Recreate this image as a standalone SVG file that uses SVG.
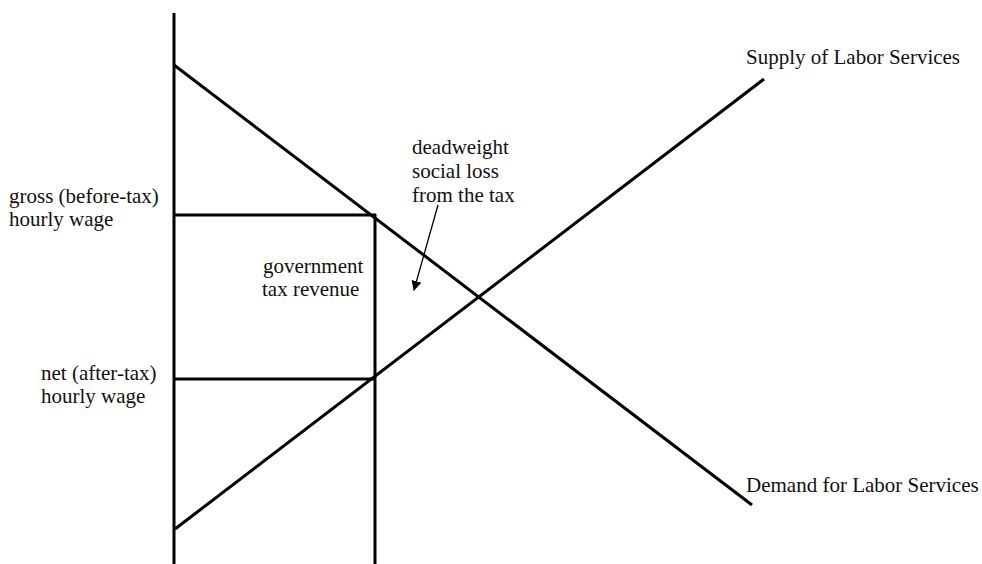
<svg xmlns="http://www.w3.org/2000/svg" width="982" height="564" viewBox="0 0 982 564">
<defs>
<style>
.ln{stroke:#000;stroke-width:3;fill:none;stroke-linecap:butt}
.tx{font-family:"Liberation Serif","Times New Roman",serif;font-size:21px;fill:#111}
</style>
<marker id="ah" viewBox="0 0 10 10" refX="9" refY="5" markerWidth="10" markerHeight="10" markerUnits="userSpaceOnUse" orient="auto">
<path d="M0,0 L10,5 L0,10 z" fill="#000"/>
</marker>
</defs>
<rect width="982" height="564" fill="#fff"/>
<g id="axes">
<line class="ln" x1="174" y1="13" x2="174" y2="564"/>
</g>
<g id="curves">
<line id="demand" class="ln" x1="174" y1="65" x2="752" y2="505"/>
<line id="supply" class="ln" x1="175" y1="529" x2="764" y2="79"/>
</g>
<g id="guides">
<line class="ln" x1="174" y1="215" x2="376" y2="215"/>
<line class="ln" x1="174" y1="379" x2="376" y2="379"/>
<line class="ln" x1="375" y1="214" x2="375" y2="564"/>
</g>
<g id="connectors">
<line x1="438" y1="205" x2="414" y2="290" stroke="#000" stroke-width="1.3" marker-end="url(#ah)"/>
</g>
<g id="labels">
<text class="tx" x="746" y="64">Supply of Labor Services</text>
<text class="tx" x="746" y="492">Demand for Labor Services</text>
<text class="tx" x="9" y="203">gross (before-tax)</text>
<text class="tx" x="9" y="226">hourly wage</text>
<text class="tx" x="41" y="380">net (after-tax)</text>
<text class="tx" x="41" y="403">hourly wage</text>
<text class="tx" x="263" y="273">government</text>
<text class="tx" x="262" y="296">tax revenue</text>
<text class="tx" x="412" y="154">deadweight</text>
<text class="tx" x="412" y="178">social loss</text>
<text class="tx" x="412" y="202">from the tax</text>
</g>
</svg>
